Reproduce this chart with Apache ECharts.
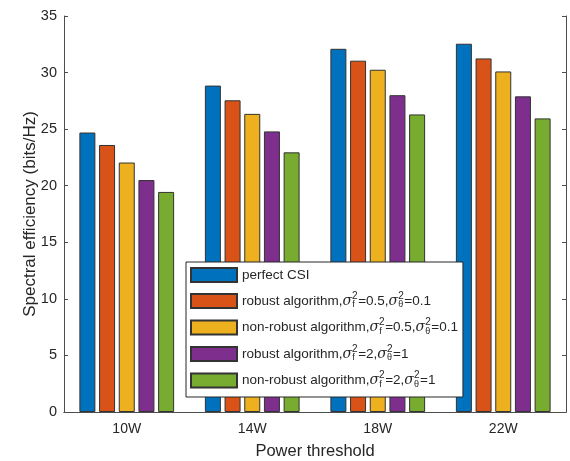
<!DOCTYPE html>
<html>
<head>
<meta charset="utf-8">
<script src="https://cdn.jsdelivr.net/npm/echarts@6/dist/echarts.min.js"></script>
<style>
  html, body { margin: 0; padding: 0; background: #fff; }
  #main { width: 570px; height: 461px; }
</style>
</head>
<body>
<div id="main"></div>
<script>
// values
const categories = ["10W", "14W", "18W", "22W"];
const perfectCSI = [24.7, 28.85, 32.1, 32.55];
const robustA = [23.6, 27.55, 31.05, 31.25];
const nonRobustA = [22.05, 26.35, 30.25, 30.1];
const robustB = [20.5, 24.8, 28.0, 27.9];
const nonRobustB = [19.45, 22.95, 26.3, 25.95];

const seriesNames = ["perfect CSI", "robust A", "non-robust A", "robust B", "non-robust B"];
const sf = "{s|σ}{sup|2}{sub|f}";
const st = "{s|σ}{sup|2}{sub|θ}";
const legendText = {
  "perfect CSI": "{p|perfect CSI}",
  "robust A": "{a|robust algorithm,}" + sf + "{a|=0.5,}" + st + "{a|=0.1}",
  "non-robust A": "{a|non-robust algorithm,}" + sf + "{a|=0.5,}" + st + "{a|=0.1}",
  "robust B": "{a|robust algorithm,}" + sf + "{a|=2,}" + st + "{a|=1}",
  "non-robust B": "{a|non-robust algorithm,}" + sf + "{a|=2,}" + st + "{a|=1}"
};
const colors = ["#0072BD", "#D95319", "#EDB120", "#7E2F8E", "#77AC30"];
const allData = [perfectCSI, robustA, nonRobustA, robustB, nonRobustB];

const chart = echarts.init(document.getElementById("main"));
const axisColor = "#4d4d4d";
const textColor = "#262626";
const font = "Liberation Sans, Arial, sans-serif";

const option = {
  animation: false,
  textStyle: { fontFamily: font },
  grid: { left: 64, right: 4, top: 16, bottom: 49, outerBoundsMode: "none" },
  legend: {
    orient: "vertical",
    left: 186,
    top: 262,
    data: seriesNames,
    icon: "rect",
    itemWidth: 46,
    itemHeight: 14,
    itemGap: 8,
    padding: [5, 5, 8, 4],
    backgroundColor: "#fff",
    borderColor: "#262626",
    borderWidth: 1,
    borderRadius: 0,
    formatter: function (name) { return legendText[name]; },
    textStyle: {
      fontSize: 13.5,
      color: textColor,
      rich: {
        p: { fontSize: 13.5, color: textColor },
        a: { fontSize: 13.5, color: textColor },
        s: { fontSize: 14, fontStyle: "italic", fontFamily: "DejaVu Serif, serif", color: textColor },
        sup: { fontSize: 10, width: 0.1, padding: [0, 0, 10, 0], color: textColor },
        sub: { fontSize: 9, width: 6, padding: [8, 0, 0, 0], color: textColor }
      }
    }
  },
  xAxis: [
    {
      type: "category",
      data: categories,
      name: "Power threshold",
      nameLocation: "middle",
      nameGap: 31,
      nameMoveOverlap: false,
      nameTextStyle: { fontSize: 16.5, color: textColor },
      axisLine: { lineStyle: { color: axisColor } },
      axisTick: { inside: true, alignWithLabel: true, length: 4, lineStyle: { color: axisColor } },
      axisLabel: { fontSize: 14, color: textColor, margin: 10 }
    },
    {
      type: "category",
      data: categories,
      position: "top",
      axisLine: { lineStyle: { color: axisColor } },
      axisTick: { inside: true, alignWithLabel: true, length: 4, lineStyle: { color: axisColor } },
      axisLabel: { show: false }
    }
  ],
  yAxis: [
    {
      type: "value",
      min: 0,
      max: 35,
      interval: 5,
      name: "Spectral efficiency (bits/Hz)",
      nameLocation: "middle",
      nameGap: 25,
      nameMoveOverlap: false,
      nameTextStyle: { fontSize: 17, color: textColor },
      axisLine: { show: true, lineStyle: { color: axisColor } },
      axisTick: { show: true, inside: true, length: 4, lineStyle: { color: axisColor } },
      axisLabel: { fontSize: 14.5, color: textColor, margin: 7 },
      splitLine: { show: false }
    },
    {
      type: "value",
      min: 0,
      max: 35,
      interval: 5,
      position: "right",
      axisLine: { show: true, lineStyle: { color: axisColor } },
      axisTick: { show: true, inside: true, length: 4, lineStyle: { color: axisColor } },
      axisLabel: { show: false },
      splitLine: { show: false }
    }
  ],
  series: seriesNames.map(function (name, i) {
    return {
      name: name,
      type: "bar",
      data: allData[i],
      barWidth: 16,
      barGap: "23%",
      itemStyle: { color: colors[i], borderColor: "#333", borderWidth: 1 }
    };
  })
};

chart.setOption(option);
</script>
</body>
</html>
